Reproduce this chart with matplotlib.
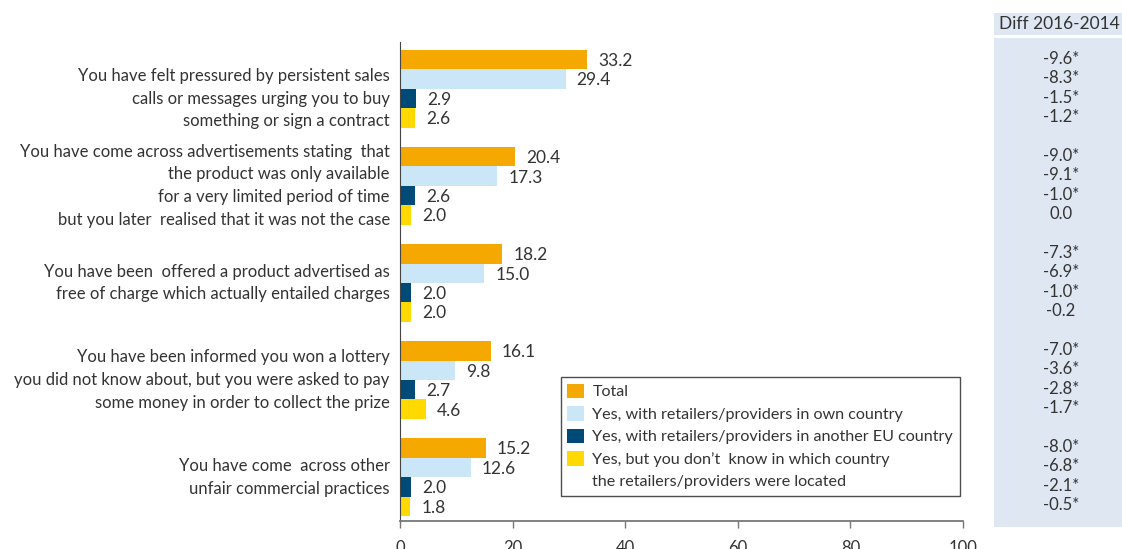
import numpy as np
import matplotlib
matplotlib.use("Agg")
import matplotlib.pyplot as plt
from matplotlib.patches import Patch, Rectangle
import matplotlib.transforms as mtransforms

plt.rcParams['font.family'] = ['Lato', 'DejaVu Sans']

# survey items (top to bottom)
categories = [
    "You have felt pressured by persistent sales\ncalls or messages urging you to buy\nsomething or sign a contract",
    "You have come across advertisements stating  that\nthe product was only available\nfor a very limited period of time\nbut you later  realised that it was not the case",
    "You have been  offered a product advertised as\nfree of charge which actually entailed charges",
    "You have been informed you won a lottery\nyou did not know about, but you were asked to pay\nsome money in order to collect the prize",
    "You have come  across other\nunfair commercial practices",
]

series_names = [
    "Total",
    "Yes, with retailers/providers in own country",
    "Yes, with retailers/providers in another EU country",
    "Yes, but you don\u2019t  know in which country",
]
series_colors = ["#F5A800", "#CBE6F7", "#004A77", "#FFD900"]

total = [33.2, 20.4, 18.2, 16.1, 15.2]
own_country = [29.4, 17.3, 15.0, 9.8, 12.6]
other_eu = [2.9, 2.6, 2.0, 2.7, 2.0]
dont_know = [2.6, 2.0, 2.0, 4.6, 1.8]

# change 2016-2014, same order as the bars; True marks a significant change
diff_values = [
    [-9.6, -8.3, -1.5, -1.2],
    [-9.0, -9.1, -1.0, 0.0],
    [-7.3, -6.9, -1.0, -0.2],
    [-7.0, -3.6, -2.8, -1.7],
    [-8.0, -6.8, -2.1, -0.5],
]
diff_signif = [
    [True, True, True, True],
    [True, True, True, False],
    [True, True, True, False],
    [True, True, True, True],
    [True, True, True, True],
]

text_col = "#333333"
W, H = 1122, 549
fig = plt.figure(figsize=(W / 100, H / 100), dpi=100)
ax = fig.add_axes([400 / W, 1 - 521 / H, 563 / W, 479 / H])

series = [total, own_country, other_eu, dont_know]
n_series = len(series)
step = n_series + 1
group_base = np.arange(len(categories)) * step

for k, (vals, col) in enumerate(zip(series, series_colors)):
    ypos = group_base + k
    ax.barh(ypos, vals, height=1.0, color=col, edgecolor='none')
    for y, v in zip(ypos, vals):
        ax.annotate(f"{v:.1f}", (v, y), xytext=(8, -1), textcoords='offset points',
                    ha='left', va='center', fontsize=12.5, color=text_col)

ax.set_xlim(0, 100)
ax.set_ylim(group_base[-1] + n_series - 0.5 + 0.26, -0.91)

for s in ['top', 'right']:
    ax.spines[s].set_visible(False)
ax.spines['left'].set_color('#444444')
ax.spines['bottom'].set_color('#777777')
ax.spines['bottom'].set_linewidth(1.3)
ax.set_xticks([0, 20, 40, 60, 80, 100])
ax.tick_params(axis='x', length=5, width=1.0, color='#777777', labelsize=12,
               labelcolor=text_col, pad=9)
ax.set_yticks([])

# category labels, right aligned next to the axis (first one sits a bit lower)
lab_tr = mtransforms.blended_transform_factory(ax.transAxes, ax.transData)
for i, (base, label) in enumerate(zip(group_base, categories)):
    shift = 0.5 if i == 0 else 0.0
    ax.text(-0.018, base + (n_series - 1) / 2 + shift, label, transform=lab_tr,
            ha='right', va='center', fontsize=12, color=text_col, linespacing=1.53)

# legend with a second line for the last entry
handles = [Patch(facecolor=c, edgecolor='none') for c in series_colors]
handles.append(Patch(facecolor='none', edgecolor='none'))
labels = series_names + ["the retailers/providers were located"]
leg = ax.legend(handles, labels, loc='upper left', bbox_to_anchor=(0.286, 0.30),
                borderaxespad=0, frameon=True, fancybox=False, fontsize=11.6,
                handlelength=1.0, handleheight=1.0, handletextpad=0.55,
                labelspacing=0.42, borderpad=0.4, labelcolor=text_col)
leg.get_frame().set_edgecolor('#222222')
leg.get_frame().set_linewidth(1.0)

# diff column on the right
panel_col = "#DFE7F3"
fig.patches.append(Rectangle((994 / W, 1 - 35 / H), 128 / W, 22 / H, transform=fig.transFigure,
                             facecolor=panel_col, edgecolor='none', zorder=-1))
fig.patches.append(Rectangle((994 / W, 1 - 527 / H), 128 / W, 489 / H, transform=fig.transFigure,
                             facecolor=panel_col, edgecolor='none', zorder=-1))
fig.text(1059 / W, 1 - 24 / H, "Diff 2016-2014", ha='center', va='center', fontsize=12.5, color=text_col)

diff_tr = mtransforms.blended_transform_factory(fig.transFigure, ax.transData)
for base, vals, sig in zip(group_base, diff_values, diff_signif):
    for k, (v, s) in enumerate(zip(vals, sig)):
        txt = f"{v:.1f}" + ("*" if s else "")
        ax.text(1061 / W, base + k - 0.05, txt, transform=diff_tr, ha='center', va='center',
                fontsize=12, color=text_col, clip_on=False)

fig.savefig("out.png", dpi=100, facecolor='white')
